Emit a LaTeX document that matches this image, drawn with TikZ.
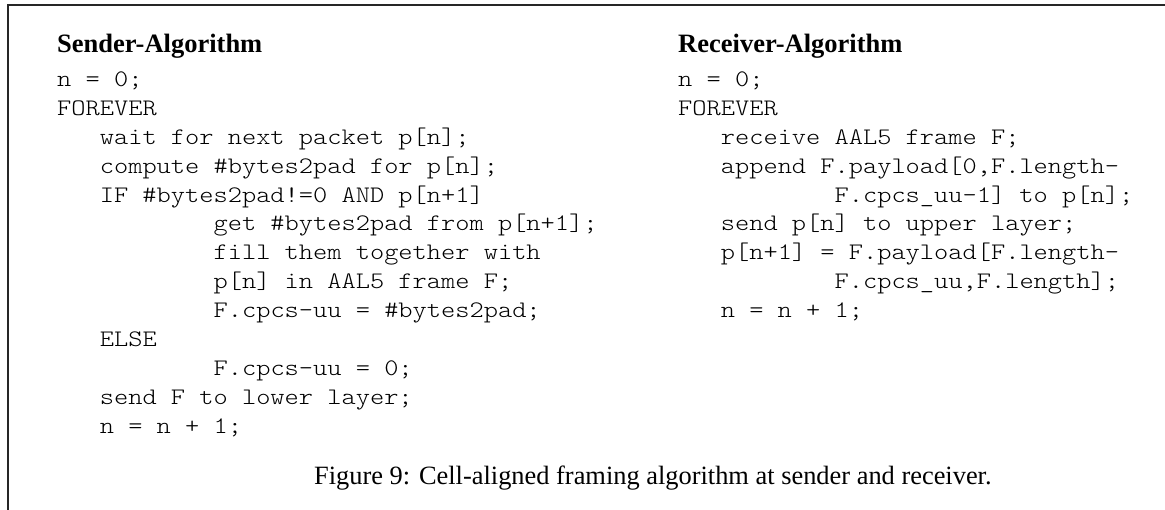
\documentclass[tikz,border=0pt]{standalone}
\usepackage{fontspec}
\setmainfont{Liberation Serif}
\newfontfamily\codefont{lmmonolt10-regular.otf}[FakeStretch=1.143]
\begin{document}
\begin{tikzpicture}[x=1pt,y=-1pt,
  code/.style={anchor=base west,inner sep=0pt,font=\codefont\fontsize{23.7}{28.9}\selectfont},
  head/.style={anchor=base west,inner sep=0pt,font=\bfseries\fontsize{26.5}{30}\selectfont},
  captext/.style={anchor=base west,inner sep=0pt,font=\fontsize{26.4}{30}\selectfont},
  frameline/.style={line width=1.9pt,draw=black!85}]
\useasboundingbox (0,0) rectangle (1165,510);
\def\cw{14.22}
\def\lx{57}
\def\rx{678}
\def\yy{86.5}
\def\py{28.9}
\draw[frameline] (8,510) -- (8,5) -- (1165,5);
% left column
\node[head] (lh) at (\lx,53) {Sender-Algorithm};
\node[code] (l0) at (\lx,\yy+0*\py) {n = 0;};
\node[code] (l1) at (\lx,\yy+1*\py) {FOREVER};
\node[code] (l2) at (\lx+3*\cw,\yy+2*\py) {wait for next packet p[n];};
\node[code] (l3) at (\lx+3*\cw,\yy+3*\py) {compute \#bytes2pad for p[n];};
\node[code] (l4) at (\lx+3*\cw,\yy+4*\py) {IF \#bytes2pad!=0 AND p[n+1]};
\node[code] (l5) at (\lx+11*\cw,\yy+5*\py) {get \#bytes2pad from p[n+1];};
\node[code] (l6) at (\lx+11*\cw,\yy+6*\py) {fill them together with};
\node[code] (l7) at (\lx+11*\cw,\yy+7*\py) {p[n] in AAL5 frame F;};
\node[code] (l8) at (\lx+11*\cw,\yy+8*\py) {F.cpcs-uu = \#bytes2pad;};
\node[code] (l9) at (\lx+3*\cw,\yy+9*\py) {ELSE};
\node[code] (l10) at (\lx+11*\cw,\yy+10*\py) {F.cpcs-uu = 0;};
\node[code] (l11) at (\lx+3*\cw,\yy+11*\py) {send F to lower layer;};
\node[code] (l12) at (\lx+3*\cw,\yy+12*\py) {n = n + 1;};
% right column
\node[head] (rh) at (\rx,53) {Receiver-Algorithm};
\node[code] (r0) at (\rx,\yy+0*\py) {n = 0;};
\node[code] (r1) at (\rx,\yy+1*\py) {FOREVER};
\node[code] (r2) at (\rx+3*\cw,\yy+2*\py) {receive AAL5 frame F;};
\node[code] (r3) at (\rx+3*\cw,\yy+3*\py) {append F.payload[0,F.length-};
\node[code] (r4) at (\rx+11*\cw,\yy+4*\py) {F.cpcs\_uu-1] to p[n];};
\node[code] (r5) at (\rx+3*\cw,\yy+5*\py) {send p[n] to upper layer;};
\node[code] (r6) at (\rx+3*\cw,\yy+6*\py) {p[n+1] = F.payload[F.length-};
\node[code] (r7) at (\rx+11*\cw,\yy+7*\py) {F.cpcs\_uu,F.length];};
\node[code] (r8) at (\rx+3*\cw,\yy+8*\py) {n = n + 1;};
% caption
\node[captext] (cap) at (314,485) {Figure 9: Cell-aligned framing algorithm at sender and receiver.};
\end{tikzpicture}
\end{document}
